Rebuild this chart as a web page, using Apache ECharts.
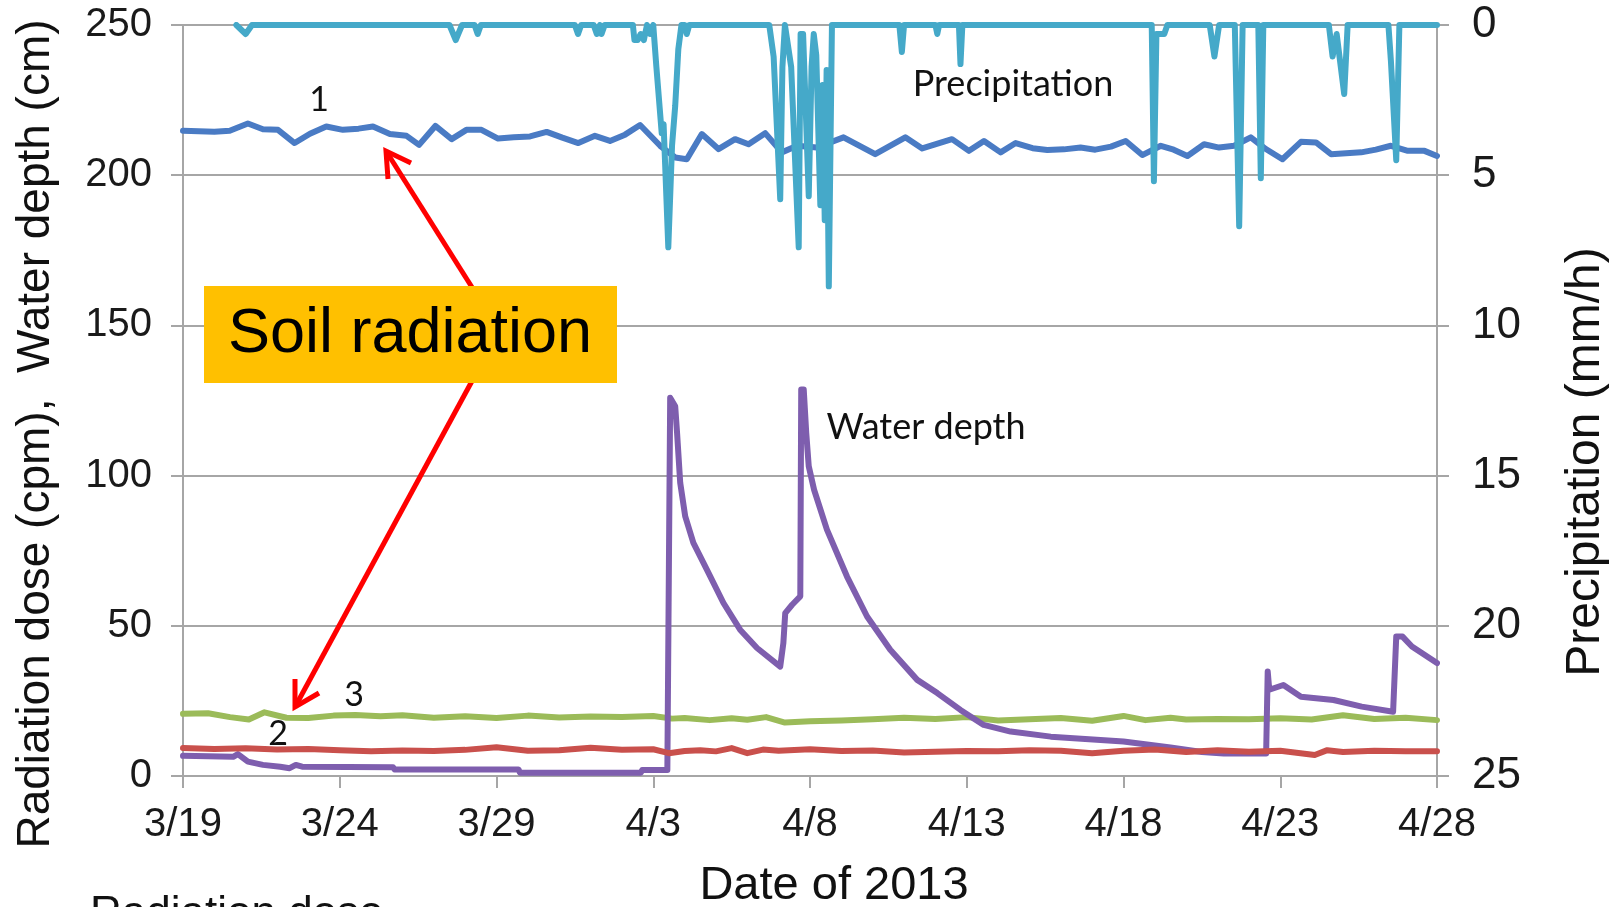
<!DOCTYPE html>
<html>
<head>
<meta charset="utf-8">
<title>Soil radiation, water depth and precipitation</title>
<script src="https://cdn.jsdelivr.net/npm/echarts@6/dist/echarts.min.js"></script>
<style>
  html, body { margin: 0; padding: 0; background: #ffffff; }
  #main { width: 1610px; height: 907px; }
</style>
</head>
<body>
<div id="main"></div>
<script>
// x values are days counted from 3/19/2013
var tickLabels = ['3/19', '3/24', '3/29', '4/3', '4/8', '4/13', '4/18', '4/23', '4/28'];

// radiation dose 1 (cpm)
var dose1Days = [0, 1, 1.49, 2.07, 2.55, 3.03, 3.56, 4.05, 4.57, 5.1, 5.6, 6.06, 6.6, 7.13, 7.53, 8.05, 8.57, 9.04, 9.52, 10.05,
  10.55, 11.07, 11.6, 12.1, 12.61, 13.14, 13.62, 14.1, 14.58, 15.22, 15.7, 16.07, 16.55, 17.08, 17.61, 18.04, 18.57, 19.1, 19.59, 20.22,
  21.07, 22.08, 23.04, 23.58, 24.53, 25.07, 25.55, 26.08, 26.56, 27.1, 27.57, 28.1, 28.63, 29.1, 29.6, 30.07, 30.6, 31.19, 31.6, 32.04,
  32.57, 33.05, 33.53, 34.06, 34.54, 35.07, 35.66, 36.14, 36.62, 37.1, 37.58, 38.05, 38.53, 39.07, 39.6, 40];
var dose1 = [214.8, 214.5, 214.8, 217.2, 215.3, 215.1, 210.7, 213.8, 216.2, 215.1, 215.5, 216.2, 213.7, 213.1, 210.1, 216.4, 212, 215.1, 215.1, 212.2,
  212.6, 212.9, 214.4, 212.5, 210.7, 213.1, 211.4, 213.5, 216.7, 209.8, 205.9, 205.3, 213.7, 208.7, 212, 210.3, 214, 207.6, 209.8, 209.2,
  212.6, 207, 212.6, 208.9, 212, 208.1, 211.4, 207.6, 210.7, 209, 208.4, 208.6, 209.2, 208.5, 209.5, 211.4, 206.7, 209.8, 208.5, 206.4,
  210.3, 209.2, 209.8, 212.6, 208.7, 205.3, 211.1, 210.9, 207, 207.3, 207.6, 208.5, 209.8, 208.1, 208.1, 206.4];

// radiation dose 2 (cpm)
var dose2Days = [0, 1, 2, 3, 4, 5, 6, 7, 8, 9, 10, 11, 12, 13, 14, 15, 15.5, 16, 16.5, 17, 17.5, 18, 18.5, 19, 20,
  21, 22, 23, 24, 25, 26, 27, 28, 29, 30, 31, 32, 33, 34, 35, 36.1, 36.5, 37, 38, 39, 40];
var dose2 = [9.3, 9.0, 9.2, 8.8, 9.0, 8.6, 8.2, 8.5, 8.3, 8.7, 9.6, 8.4, 8.6, 9.4, 8.7, 8.9, 7.6, 8.3, 8.6, 8.2, 9.3, 7.6, 8.8, 8.4, 8.9,
  8.3, 8.5, 7.8, 8.1, 8.3, 8.2, 8.6, 8.4, 7.6, 8.4, 8.8, 8.0, 8.6, 8.1, 8.4, 7.0, 8.6, 8.0, 8.4, 8.2, 8.2];

// radiation dose 3 (cpm)
var dose3Days = [0, 0.8, 1.5, 2.1, 2.6, 3.3, 4, 4.8, 5.5, 6.3, 7, 8, 9, 10, 11, 12, 13, 14, 15, 15.6, 16, 16.8, 17.5, 18, 18.6,
  19.2, 20, 21, 22, 23, 24, 25, 26, 27, 28, 29, 30, 30.7, 31.5, 32, 33, 34, 35, 36, 37, 38, 39, 40];
var dose3 = [20.7, 20.9, 19.6, 18.8, 21.2, 19.4, 19.3, 20.1, 20.3, 19.9, 20.2, 19.4, 19.9, 19.3, 20.1, 19.5, 19.8, 19.6, 20.0, 19.1, 19.3, 18.6, 19.2, 18.7, 19.6,
  17.8, 18.2, 18.5, 18.9, 19.4, 19.0, 19.6, 18.5, 18.9, 19.3, 18.4, 20.0, 18.6, 19.4, 18.8, 19.0, 18.9, 19.2, 18.8, 20.2, 19.0, 19.4, 18.6];

// water depth (cm)
var depthDays = [0, 1.6, 1.75, 2.07, 2.55, 3.1, 3.4, 3.6, 3.8, 6.7, 6.75, 10.7, 10.75, 14.6, 14.65, 15.45, 15.54, 15.7, 15.76, 15.86,
  16.02, 16.28, 16.71, 17.24, 17.77, 18.31, 19.05, 19.15, 19.21, 19.43, 19.69, 19.72, 19.8, 19.88, 19.96, 20.13, 20.54, 21.18, 21.82, 22.56,
  23.42, 24.06, 24.8, 25.54, 26.4, 27.68, 30, 31.5, 32.5, 33.2, 34.55, 34.6, 34.65, 35.1, 35.66, 36.7, 37.6, 38.6, 38.7, 38.9, 39.2, 40];
var depth = [6.7, 6.4, 7.3, 4.8, 3.7, 3.1, 2.6, 3.7, 3.1, 2.9, 2.2, 2.2, 1.1, 1.1, 2.0, 2.0, 125.9, 123.1, 114.2, 97.6,
  86.4, 77.6, 68.7, 57.6, 48.7, 42.6, 36.4, 44.2, 54.2, 57, 59.8, 128.7, 128.7, 114.2, 103.1, 95.3, 82, 66.4, 53.1, 42,
  32, 27.6, 22, 17, 14.8, 13.1, 11.5, 9.5, 8.0, 7.5, 7.5, 34.8, 28.7, 30.3, 26.4, 25.3, 23.1, 21.4, 46.4, 46.4, 43.1, 37.6];

// precipitation (mm/h), right axis
var rainDays = [1.7, 2.0, 2.2, 8.5, 8.7, 8.9, 9.3, 9.4, 9.5, 12.5, 12.6, 12.7, 13.1, 13.2, 13.3, 13.35, 13.45, 14.35, 14.4, 14.5,
  14.6, 14.7, 14.8, 14.9, 15.0, 15.1, 15.27, 15.33, 15.48, 15.6, 15.7, 15.8, 15.9, 16.0, 16.07, 16.15, 18.7, 18.84, 19.05, 19.12,
  19.2, 19.26, 19.4, 19.64, 19.7, 19.78, 19.96, 20.05, 20.12, 20.2, 20.33, 20.4, 20.47, 20.53, 20.6, 20.7, 22.85, 22.93, 23.0, 24.0,
  24.06, 24.12, 24.75, 24.8, 24.86, 30.9, 30.97, 31.05, 31.3, 31.4, 32.75, 32.9, 33.05, 33.55, 33.69, 33.8, 34.3, 34.38, 34.46, 36.55,
  36.67, 36.8, 37.04, 37.15, 38.45, 38.53, 38.7, 38.8, 40];
var rain = [0, 0.3, 0, 0, 0.5, 0, 0, 0.3, 0, 0, 0.3, 0, 0, 0.3, 0, 0.3, 0, 0, 0.5, 0.5,
  0.3, 0.5, 0, 0.3, 0, 1.4, 3.6, 3.3, 7.4, 4.0, 2.7, 0.8, 0, 0, 0.3, 0, 0, 1.05, 5.8, 1.4,
  0, 0, 1.4, 7.4, 0.3, 0.3, 5.7, 1.4, 0.3, 1.0, 6.0, 2.0, 6.5, 1.5, 8.7, 0, 0, 0.9, 0, 0,
  0.3, 0, 0, 1.3, 0, 0, 5.2, 0.3, 0.3, 0, 0, 1.05, 0, 0, 6.7, 0, 0, 5.1, 0, 0,
  1.05, 0.3, 2.3, 0, 0, 1.2, 4.5, 0, 0];

function pairs(xs, ys) {
  var out = [];
  for (var i = 0; i < xs.length; i++) out.push([xs[i], ys[i]]);
  return out;
}

var gray = '#a6a6a6';
var chart = echarts.init(document.getElementById('main'));

function lineSeries(name, xs, ys, color, axis, width) {
  return {
    name: name,
    type: 'line',
    yAxisIndex: axis,
    data: pairs(xs, ys),
    showSymbol: false,
    lineStyle: { color: color, width: width, cap: 'round', join: 'round' },
    itemStyle: { color: color }
  };
}

var option = {
  animation: false,
  backgroundColor: '#ffffff',
  grid: { left: 183, right: 173, top: 25, bottom: 131 },
  xAxis: {
    type: 'value',
    min: 0,
    max: 40,
    interval: 5,
    axisLine: { onZero: false, lineStyle: { color: gray, width: 2 } },
    axisTick: { show: true, length: 12, lineStyle: { color: gray, width: 2 } },
    splitLine: { show: false },
    axisLabel: {
      margin: 29, fontSize: 40, fontFamily: 'Liberation Sans', color: '#1a1a1a',
      showMinLabel: true, showMaxLabel: true,
      formatter: function (v) { return tickLabels[Math.round(v / 5)]; }
    }
  },
  yAxis: [
    {
      type: 'value',
      position: 'left',
      min: 0,
      max: 250,
      interval: 50,
      axisLine: { show: true, lineStyle: { color: gray, width: 2 } },
      axisTick: { show: true, length: 12, lineStyle: { color: gray, width: 2 } },
      splitLine: { show: true, lineStyle: { color: gray, width: 2 } },
      axisLabel: { margin: 31, fontSize: 40, fontFamily: 'Liberation Sans', color: '#1a1a1a' }
    },
    {
      type: 'value',
      position: 'right',
      inverse: true,
      min: 0,
      max: 25,
      interval: 5,
      axisLine: { show: true, lineStyle: { color: gray, width: 2 } },
      axisTick: { show: true, length: 12, lineStyle: { color: gray, width: 2 } },
      splitLine: { show: false },
      axisLabel: { margin: 35, fontSize: 44, fontFamily: 'Liberation Sans', color: '#1a1a1a' }
    }
  ],
  series: [
    lineSeries('1', dose1Days, dose1, '#4a7bc4', 0, 6),
    lineSeries('3', dose3Days, dose3, '#9bbb59', 0, 6),
    lineSeries('Water depth', depthDays, depth, '#7e5eae', 0, 6),
    lineSeries('2', dose2Days, dose2, '#c9504c', 0, 6),
    lineSeries('Precipitation', rainDays, rain, '#45a9c9', 1, 6)
  ],
  graphic: [
    // red arrows pointing from the label box to the lines
    { type: 'polyline', z: 100, shape: { points: [[480, 300], [386, 151]] }, style: { stroke: '#ff0000', lineWidth: 5, fill: null } },
    { type: 'polyline', z: 100, shape: { points: [[411, 163], [386, 151], [388, 179]] }, style: { stroke: '#ff0000', lineWidth: 5, fill: null } },
    { type: 'polyline', z: 100, shape: { points: [[478, 370], [295, 707]] }, style: { stroke: '#ff0000', lineWidth: 5, fill: null } },
    { type: 'polyline', z: 100, shape: { points: [[319, 693], [295, 707], [295, 679]] }, style: { stroke: '#ff0000', lineWidth: 5, fill: null } },
    { type: 'rect', z: 101, shape: { x: 204, y: 286, width: 413, height: 97 }, style: { fill: '#ffc000' } },
    { type: 'text', z: 102, x: 410, y: 335, style: { text: 'Soil radiation', fontSize: 63, fontFamily: 'Liberation Sans', fill: '#000', align: 'center', verticalAlign: 'middle' } },
    // series annotations
    { type: 'text', z: 102, x: 319, y: 100, style: { text: '1', fontSize: 34, fontFamily: 'Lato', fill: '#111', align: 'center', verticalAlign: 'middle' } },
    { type: 'text', z: 102, x: 278, y: 734, style: { text: '2', fontSize: 34, fontFamily: 'Lato', fill: '#111', align: 'center', verticalAlign: 'middle' } },
    { type: 'text', z: 102, x: 354, y: 695, style: { text: '3', fontSize: 34, fontFamily: 'Lato', fill: '#111', align: 'center', verticalAlign: 'middle' } },
    { type: 'text', z: 102, x: 1013, y: 84, style: { text: 'Precipitation', fontSize: 36, fontFamily: 'Lato', fill: '#111', align: 'center', verticalAlign: 'middle' } },
    { type: 'text', z: 102, x: 926, y: 427, style: { text: 'Water depth', fontSize: 36, fontFamily: 'Lato', fill: '#111', align: 'center', verticalAlign: 'middle' } },
    // axis titles
    { type: 'text', z: 102, x: 36, y: 434, rotation: Math.PI / 2, style: { text: 'Radiation dose (cpm),  Water depth (cm)', fontSize: 46, fontFamily: 'Liberation Sans', fill: '#111', align: 'center', verticalAlign: 'middle' } },
    { type: 'text', z: 102, x: 1586, y: 462, rotation: Math.PI / 2, style: { text: 'Precipitation (mm/h)', fontSize: 48, fontFamily: 'Liberation Sans', fill: '#111', align: 'center', verticalAlign: 'middle' } },
    { type: 'text', z: 102, x: 834, y: 886, style: { text: 'Date of 2013', fontSize: 47, fontFamily: 'Liberation Sans', fill: '#111', align: 'center', verticalAlign: 'middle' } },
    // caption cut off at the bottom edge
    { type: 'text', z: 102, x: 90, y: 915, style: { text: 'Radiation dose', fontSize: 44, fontFamily: 'Liberation Sans', fill: '#111', align: 'left', verticalAlign: 'middle' } }
  ]
};

chart.setOption(option);
</script>
</body>
</html>
